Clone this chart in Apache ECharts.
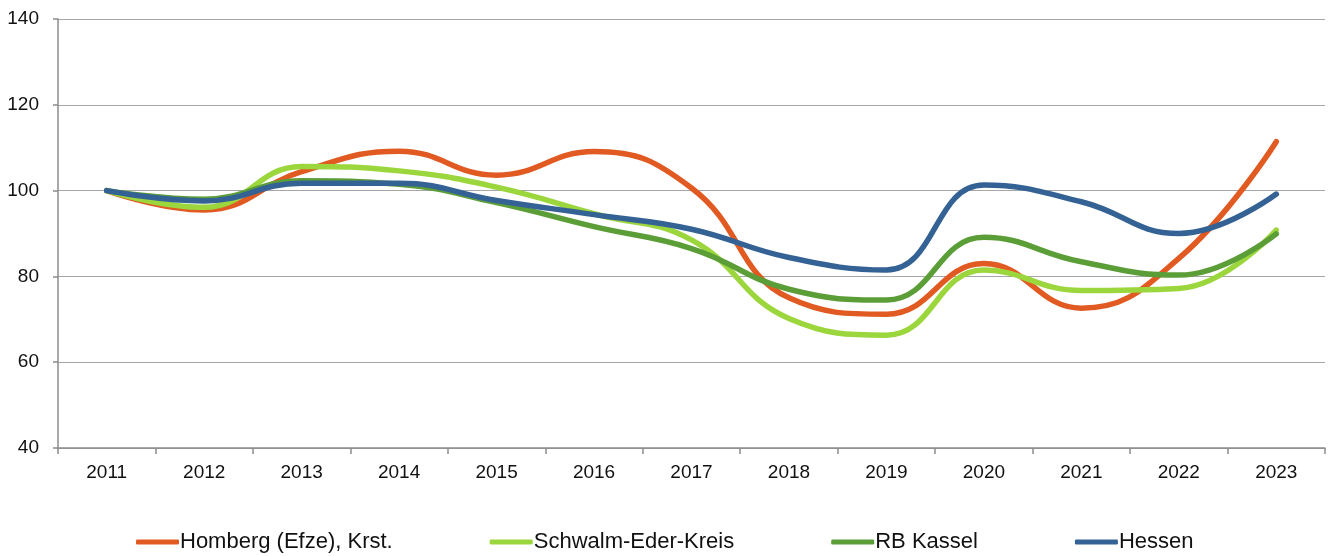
<!DOCTYPE html>
<html>
<head>
    <meta charset="utf-8">
    <title>Index 2011-2023</title>
    <script src="https://cdn.jsdelivr.net/npm/echarts@6/dist/echarts.min.js"></script>
</head>
<body style="margin:0">
    <div id="main" style="width: 1329px;height:556px;"></div>

    <script type="text/javascript">
        // Jahre (x-Achse)
        var years = ['2011', '2012', '2013', '2014', '2015', '2016', '2017',
                     '2018', '2019', '2020', '2021', '2022', '2023'];

        // Werte (2011 = 100)
        var homberg = [100, 95.5, 104.4, 109.2, 103.6, 109.1, 100.6, 75, 71.2, 83, 72.6, 84.2, 111.4];
        var schwalmEder = [100, 96.1, 105.6, 104.6, 100.8, 94.6, 88.5, 70.2, 66.3, 81.5, 76.7, 77.2, 90.8];
        var rbKassel = [100, 98, 102.3, 101.5, 97.2, 91.6, 86.5, 77, 74.5, 89.1, 83.4, 80.3, 89.9];
        var hessen = [100, 97.6, 101.7, 101.7, 97.7, 94.4, 91, 84.4, 81.5, 101.3, 97.4, 90, 99.2];

        var names = ['Homberg (Efze), Krst.', 'Schwalm-Eder-Kreis', 'RB Kassel', 'Hessen'];
        var colors = ['#E05A22', '#9BD63C', '#5B9E37', '#346294'];

        var myChart = echarts.init(document.getElementById('main'));

        function line(name, data, color) {
            return {
                name: name,
                type: 'line',
                data: data,
                smooth: 0.45,
                symbol: 'none',
                lineStyle: { width: 5.5, color: color, cap: 'round' },
                itemStyle: { color: color }
            };
        }

        var option = {
            animation: false,
            textStyle: { fontFamily: 'Liberation Sans, Arial, sans-serif' },
            grid: { left: 58, right: 4, top: 19, bottom: 108 },
            legend: {
                data: names,
                left: 131,
                top: 526,
                itemWidth: 43,
                itemHeight: 5,
                itemGap: 97,
                icon: 'roundRect',
                textStyle: { fontSize: 22, color: '#111', padding: [0, 0, 0, -4] }
            },
            xAxis: {
                type: 'category',
                data: years,
                boundaryGap: true,
                axisLine: { lineStyle: { color: '#8c8c8c', width: 1.5 } },
                axisTick: { show: true, length: 6, lineStyle: { color: '#8c8c8c', width: 1.5 } },
                axisLabel: { fontSize: 19, color: '#111', margin: 15 }
            },
            yAxis: {
                type: 'value',
                min: 40,
                max: 140,
                interval: 20,
                axisLine: { show: true, lineStyle: { color: '#8c8c8c', width: 1.5 } },
                axisTick: { show: true, length: 5, lineStyle: { color: '#8c8c8c', width: 1.5 } },
                axisLabel: { fontSize: 19, color: '#111', margin: 19 },
                splitLine: { lineStyle: { color: '#a6a6a6', width: 1.2 } }
            },
            series: [
                line(names[0], homberg, colors[0]),
                line(names[1], schwalmEder, colors[1]),
                line(names[2], rbKassel, colors[2]),
                line(names[3], hessen, colors[3])
            ]
        };

        myChart.setOption(option);
    </script>
</body>
</html>
